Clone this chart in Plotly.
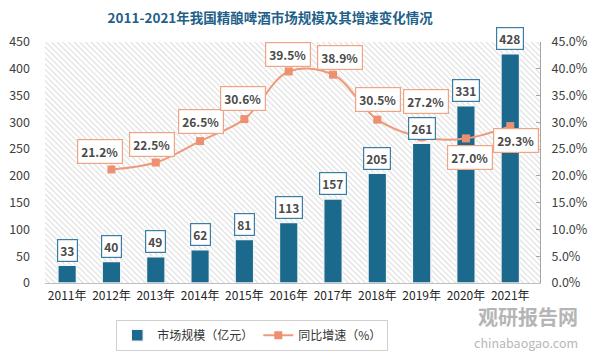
import base64
import plotly.graph_objects as go

# ---------------- data ----------------
years = ["2011年", "2012年", "2013年", "2014年", "2015年", "2016年",
         "2017年", "2018年", "2019年", "2020年", "2021年"]
market_size = [33, 40, 49, 62, 81, 113, 157, 205, 261, 331, 428]
growth_years = ["2012年", "2013年", "2014年", "2015年", "2016年",
                "2017年", "2018年", "2019年", "2020年", "2021年"]
growth_rate = [21.2, 22.5, 26.5, 30.6, 39.5, 38.9, 30.5, 27.2, 27.0, 29.3]
left_ticks = [0, 50, 100, 150, 200, 250, 300, 350, 400, 450]
right_ticks = [0, 5, 10, 15, 20, 25, 30, 35, 40, 45]

# ---------------- style ----------------
BAR = "#1b6a8e"
LINE = "#ee9a7a"
FONT = "Noto Sans CJK SC"
# label offsets (px) for growth labels: (dx, dy)
growth_label_shift = [(-11, 18), (-4, 18), (1, 20), (-1, 21), (-1, 17),
                      (7, 17), (1, 20), (4, 36), (4, -19), (6, -14)]

# hatched background for plot area
svg = (
    '<svg xmlns="http://www.w3.org/2000/svg" width="496" height="241">'
    '<defs><pattern id="p" patternUnits="userSpaceOnUse" width="4" height="4" '
    'patternTransform="rotate(-45)">'
    '<rect x="0" y="0" width="4" height="4" fill="#ffffff"/>'
    '<rect x="0" y="0" width="1.1" height="4" fill="#dedede"/>'
    '</pattern></defs>'
    '<rect width="496" height="241" fill="url(#p)"/></svg>'
)
svg_uri = "data:image/svg+xml;base64," + base64.b64encode(svg.encode()).decode()

fig = go.Figure()
fig.add_trace(go.Bar(
    x=years, y=market_size, name="市场规模（亿元）",
    marker=dict(color=BAR, line=dict(color="#f4f4f4", width=1.5)),
    yaxis="y",
))
fig.add_trace(go.Scatter(
    x=growth_years, y=growth_rate, name="同比增速（%）",
    mode="lines+markers", yaxis="y2",
    line=dict(color=LINE, width=2, shape="spline", smoothing=1.0),
    marker=dict(symbol="square", size=8, color="#ec9070"),
))

annotations = []
for x, v in zip(years, market_size):
    annotations.append(dict(
        x=x, y=v, xref="x", yref="y", text=f"<b>{v}</b>", showarrow=False,
        xanchor="center", yanchor="middle", yshift=15,
        font=dict(family=FONT, size=12, color="#4a4a4a"),
        bgcolor="white", bordercolor="#3a7fa3", borderwidth=1.2, borderpad=2,
    ))
for (x, v), (dx, dy) in zip(zip(growth_years, growth_rate), growth_label_shift):
    annotations.append(dict(
        x=x, y=v, xref="x", yref="y2", text=f"<b>{v:.1f}%</b>", showarrow=False,
        xanchor="center", yanchor="middle", xshift=dx, yshift=dy,
        font=dict(family=FONT, size=12, color="#4a4a4a"),
        bgcolor="white", bordercolor="#f0a486", borderwidth=1.2, borderpad=3,
    ))
# watermark
annotations.append(dict(
    x=0.975, y=-0.141, xref="paper", yref="paper", text="<b>观研报告网</b>",
    showarrow=False, xanchor="center", yanchor="middle",
    font=dict(family=FONT, size=20, color="#b5b5b5"),
))
annotations.append(dict(
    x=0.972, y=-0.247, xref="paper", yref="paper", text="chinabaogao.com",
    showarrow=False, xanchor="center", yanchor="middle",
    font=dict(family=FONT, size=12.5, color="#b8b8b8"),
))

fig.update_layout(
    width=590, height=354,
    margin=dict(l=44.5, r=49.5, t=42, b=71, pad=0, autoexpand=False),
    paper_bgcolor="white", plot_bgcolor="rgba(0,0,0,0)",
    font=dict(family=FONT, size=12, color="#333333"),
    title=dict(
        text="<b>2011-2021年我国精酿啤酒市场规模及其增速变化情况</b>",
        x=0.458, xref="container", xanchor="center",
        y=0.949, yref="container", yanchor="middle",
        font=dict(family=FONT, size=13.5, color="#1f5f88"),
    ),
    bargap=0.58,
    showlegend=True,
    legend=dict(
        orientation="h", x=0.144, y=-0.152, xanchor="left", yanchor="top",
        bordercolor="#d0d0d0", borderwidth=1, bgcolor="white",
        font=dict(family=FONT, size=12, color="#333333"),
        itemwidth=30, traceorder="normal",
    ),
    xaxis=dict(
        type="category", categoryorder="array", categoryarray=years,
        showline=True, linecolor="#bfbfbf", linewidth=1,
        ticks="", showgrid=False, zeroline=False,
        tickfont=dict(family=FONT, size=12, color="#262626"),
        ticklabelstandoff=2,
    ),
    yaxis=dict(
        range=[0, 450], tickvals=left_ticks, showgrid=False, zeroline=False,
        showline=False, ticks="",
        tickfont=dict(family=FONT, size=12.5, color="#404040"),
        ticklabelstandoff=14,
    ),
    yaxis2=dict(
        range=[0, 45], tickvals=right_ticks,
        ticktext=[f"{t:.1f}%" for t in right_ticks],
        overlaying="y", side="right", showgrid=False, zeroline=False,
        showline=True, linecolor="#a6a6a6", linewidth=1,
        ticks="inside", ticklen=4, tickcolor="#a6a6a6",
        tickfont=dict(family=FONT, size=12.5, color="#404040"),
        ticklabelstandoff=8,
    ),
    images=[dict(
        source=svg_uri, xref="paper", yref="paper", x=0, y=1,
        sizex=1, sizey=1, sizing="stretch", xanchor="left", yanchor="top",
        layer="below",
    )],
    annotations=annotations,
)

fig.write_html("out.html")
